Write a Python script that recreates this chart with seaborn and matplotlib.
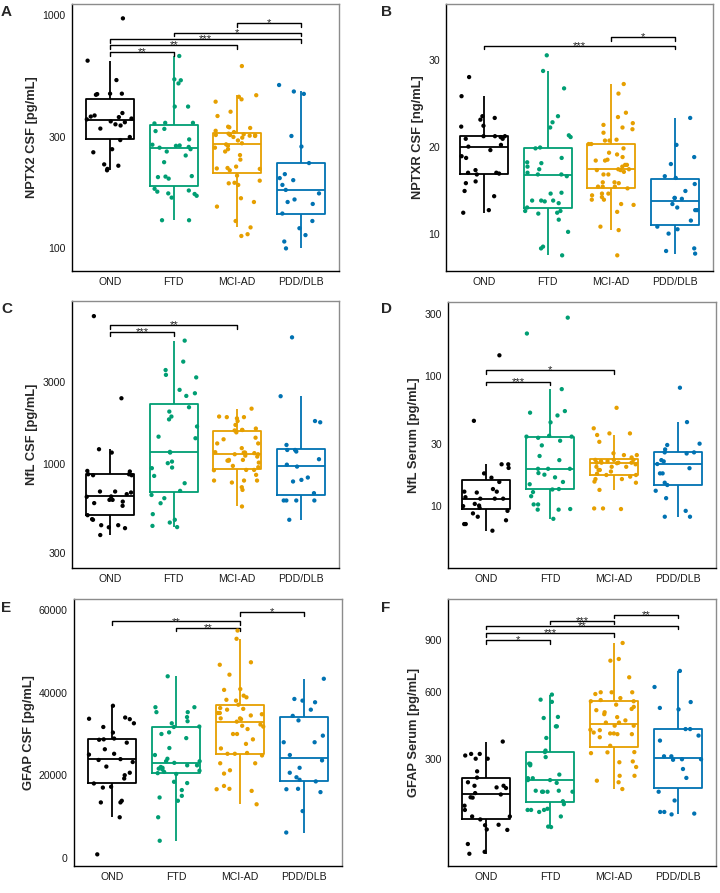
import numpy as np
import pandas as pd
import matplotlib
matplotlib.use('Agg')
import matplotlib.pyplot as plt
from matplotlib.ticker import NullLocator
import seaborn as sns

groups = ['OND', 'FTD', 'MCI-AD', 'PDD/DLB']
colors = ['#000000', '#009E73', '#E69F00', '#0072B2']

# A: NPTX2 CSF [pg/mL]
ond_a = [967, 637, 526, 460, 460, 458, 455, 380, 371, 367, 365, 360, 357, 350, 347, 340, 336, 326, 300, 291, 266, 258, 229, 226, 219, 216]
ftd_a = [667, 530, 525, 509, 405, 405, 345, 345, 343, 325, 318, 293, 278, 276, 275, 272, 270, 266, 260, 250, 234, 204, 203, 202, 199, 180, 177, 175, 172, 171, 168, 165, 132, 132]
mci_a = [604, 453, 446, 435, 425, 385, 369, 332, 330, 328, 319, 315, 310, 308, 306, 306, 305, 304, 303, 300, 298, 290, 282, 279, 275, 270, 266, 260, 251, 240, 224, 221, 220, 219, 216, 205, 195, 191, 190, 187, 164, 158, 151, 131, 123, 115, 113]
pdd_a = [501, 470, 459, 303, 273, 232, 208, 200, 196, 187, 178, 172, 162, 158, 155, 141, 131, 122, 114, 107, 100]

# B: NPTXR CSF [ng/mL]
ond_b = [28.0, 25.8, 23.5, 23.3, 23.1, 22.4, 22.3, 21.2, 21.2, 21.1, 21.2, 20.9, 20.9, 20.2, 20.0, 19.6, 18.9, 18.7, 17.3, 17.0, 17.0, 16.9, 16.8, 16.0, 15.8, 14.9, 14.3, 12.7, 12.4]
ftd_b = [30.5, 28.7, 26.7, 23.5, 22.8, 22.2, 21.3, 21.1, 19.9, 19.8, 18.7, 18.2, 18.1, 17.7, 17.4, 17.0, 16.8, 16.8, 16.6, 14.7, 14.6, 13.8, 13.8, 13.8, 13.7, 13.5, 13.0, 12.6, 12.6, 12.3, 12.4, 11.6, 10.2, 8.5, 8.3, 7.5]
mci_b = [27.2, 26.1, 23.9, 23.4, 22.7, 22.5, 22.2, 22.0, 21.6, 20.8, 20.7, 20.7, 20.3, 20.3, 19.8, 19.3, 19.1, 18.8, 18.5, 18.4, 18.4, 17.9, 17.9, 17.7, 17.4, 17.4, 17.3, 17.3, 17.1, 16.8, 16.8, 15.9, 15.9, 15.8, 15.4, 15.4, 15.4, 15.2, 14.6, 14.6, 14.4, 14.2, 13.9, 13.9, 13.4, 13.3, 12.5, 10.8, 10.4, 7.5]
pdd_b = [23.3, 20.2, 18.8, 18.0, 16.6, 16.4, 15.7, 14.9, 14.1, 14.1, 14.0, 13.4, 13.0, 12.7, 12.7, 11.5, 10.8, 10.5, 10.0, 8.3, 8.0, 7.7]

# C: NfL CSF [pg/mL]
ond_c = [7240, 2403, 1212, 1159, 906, 899, 866, 866, 855, 855, 687, 687, 678, 663, 640, 643, 614, 614, 600, 588, 567, 500, 470, 474, 437, 437, 425, 420, 383]
ftd_c = [5210, 3930, 3510, 3290, 3180, 2690, 2570, 2480, 2130, 2010, 1880, 1810, 1645, 1435, 1405, 1170, 1159, 1027, 1005, 948, 940, 847, 768, 693, 656, 628, 587, 507, 470, 453, 433, 426]
mci_c = [2090, 1880, 1865, 1865, 1835, 1770, 1680, 1600, 1570, 1570, 1560, 1520, 1415, 1385, 1310, 1310, 1230, 1165, 1159, 1159, 1150, 1133, 1133, 1112, 1098, 1050, 1050, 1040, 1040, 1013, 969, 952, 918, 918, 914, 859, 796, 796, 796, 775, 728, 702, 562]
pdd_c = [5445, 2470, 1770, 1740, 1284, 1200, 1200, 1175, 1060, 985, 960, 829, 803, 786, 672, 609, 609, 609, 609, 470]

# D: NfL Serum [pg/mL]
ond_d = [144, 45, 20.8, 20.8, 19.5, 17.7, 16.4, 15.2, 13.4, 12.8, 12.8, 12.6, 11.6, 11.3, 11.3, 11.3, 10.3, 10.0, 9.9, 9.6, 9.1, 8.7, 8.2, 7.7, 7.2, 7.2, 6.4]
ftd_d = [281, 212, 79, 53.5, 52, 49.5, 43.8, 34.5, 34.0, 34.0, 33.3, 31.6, 29.1, 24.1, 22.4, 19.2, 19.2, 19.2, 17.8, 17.3, 16.5, 15.2, 14.6, 13.4, 13.3, 12.7, 11.8, 10.2, 10.2, 9.4, 9.3, 9.3, 7.9]
mci_d = [56.7, 39.4, 36, 36, 35, 31, 25.3, 24.5, 24.5, 23.5, 22.5, 22.5, 22.5, 22.0, 22.0, 21.4, 21.4, 21.4, 21.4, 21.2, 20.8, 19.9, 19.9, 19.9, 18.8, 18.8, 18.3, 17.2, 17.2, 17.6, 16.7, 16.0, 16.0, 15.3, 15.0, 13.2, 9.5, 9.5, 9.4]
pdd_d = [81, 44, 30, 29.3, 27.1, 25.7, 25.7, 25.2, 22.4, 21.9, 20.9, 19.4, 17.7, 17.7, 15.0, 14.4, 13.0, 11.4, 9.1, 8.2, 8.2]

# E: GFAP CSF [pg/mL]
ond_e = [36850, 34000, 33600, 33700, 31700, 32600, 30350, 28700, 28900, 28600, 27900, 26300, 25200, 25000, 23900, 23700, 23200, 22100, 19200, 20000, 20600, 18000, 17000, 17200, 13400, 13400, 13800, 9800, 800]
ftd_e = [44000, 36500, 35300, 35300, 36500, 34100, 33100, 32600, 31800, 31700, 30000, 30400, 29000, 26600, 24900, 24000, 23400, 23400, 23000, 22400, 22400, 22000, 21800, 21600, 21400, 21100, 20800, 20500, 20300, 18400, 18100, 16400, 15000, 14600, 13800, 9800, 4100]
mci_e = [55100, 53100, 47400, 46800, 44400, 40700, 40900, 39300, 38900, 38300, 38100, 37100, 36300, 36100, 35900, 35100, 34800, 35100, 34500, 33800, 33800, 33600, 33000, 32000, 32300, 31800, 31200, 30000, 30000, 28700, 27600, 26500, 25400, 24800, 25200, 25200, 22900, 22900, 21200, 20400, 17400, 16700, 16600, 16200, 12950]
pdd_e = [43400, 38500, 38100, 37700, 35900, 34400, 33300, 29600, 28000, 28000, 24900, 23600, 21800, 20600, 19500, 18900, 18500, 16600, 15900, 16700, 11300, 6100]

# F: GFAP Serum [pg/mL]
ond_f = [367, 318, 312, 318, 300, 300, 255, 234, 219, 208, 201, 186, 203, 208, 182, 173, 174, 140, 151, 124, 124, 117, 105, 104, 95, 94, 67, 54, 51]
ftd_f = [585, 559, 548, 475, 470, 432, 432, 382, 331, 325, 306, 281, 282, 276, 244, 226, 226, 232, 232, 217, 190, 190, 190, 193, 193, 190, 163, 155, 143, 135, 140, 140, 140, 124, 101, 100]
mci_f = [883, 774, 784, 678, 597, 597, 597, 588, 551, 551, 567, 557, 534, 523, 513, 507, 497, 488, 474, 459, 449, 449, 435, 435, 415, 417, 405, 401, 401, 398, 398, 385, 350, 325, 324, 321, 290, 287, 270, 240, 240, 219, 224, 198]
pdd_f = [714, 625, 547, 518, 511, 420, 420, 392, 371, 309, 309, 296, 298, 298, 263, 233, 190, 165, 135, 135, 131, 129]

# significance brackets: (group1, group2, label, height as axes fraction)
comps_a = [('OND', 'FTD', '**', 0.819), ('OND', 'MCI-AD', '**', 0.846), ('OND', 'PDD/DLB', '***', 0.868),
           ('FTD', 'PDD/DLB', '*', 0.893), ('MCI-AD', 'PDD/DLB', '*', 0.928)]
comps_b = [('OND', 'PDD/DLB', '***', 0.843), ('MCI-AD', 'PDD/DLB', '*', 0.876)]
comps_c = [('OND', 'FTD', '***', 0.883), ('OND', 'MCI-AD', '**', 0.910)]
comps_d = [('OND', 'FTD', '***', 0.700), ('OND', 'MCI-AD', '*', 0.744)]
comps_e = [('OND', 'MCI-AD', '**', 0.916), ('FTD', 'MCI-AD', '**', 0.893), ('MCI-AD', 'PDD/DLB', '*', 0.950)]
comps_f = [('OND', 'FTD', '*', 0.846), ('OND', 'MCI-AD', '***', 0.872), ('OND', 'PDD/DLB', '**', 0.899),
           ('FTD', 'MCI-AD', '***', 0.918), ('MCI-AD', 'PDD/DLB', '**', 0.940)]

W, H = 720, 893


def draw_panel(ax, values, ylabel, yscale, ylim, yticks, comps, whis=1.5, seed=0):
    df = pd.DataFrame({
        'group': np.repeat(groups, [len(v) for v in values]),
        'value': np.concatenate(values).astype(float),
    })
    if yscale == 'sqrt':
        ax.set_yscale('function', functions=(lambda y: np.sqrt(np.clip(y, 0, None)), np.square))
    sns.boxplot(data=df, x='group', y='value', hue='group', order=groups, hue_order=groups,
                palette=colors, fill=False, width=0.75, showfliers=False, showcaps=False,
                whis=whis, linewidth=1.3, legend=False,
                log_scale=True if yscale == 'log' else None, ax=ax)
    np.random.seed(seed)
    sns.stripplot(data=df, x='group', y='value', hue='group', order=groups, hue_order=groups,
                  palette=colors, jitter=0.37, size=3.1, linewidth=0, legend=False, ax=ax)

    ax.set_xlim(-0.6, 3.6)
    ax.set_ylim(ylim)
    ax.set_yticks(yticks)
    ax.set_yticklabels([f'{t:g}' for t in yticks])
    ax.yaxis.set_minor_locator(NullLocator())
    ax.set_xlabel('')
    ax.set_ylabel(ylabel, fontweight='bold', fontsize=9.3, labelpad=3)
    ax.tick_params(direction='out', length=3, width=0.8, color='#333333', pad=1.5,
                   labelsize=7.6, labelcolor='#1a1a1a')
    for side in ['left', 'bottom']:
        ax.spines[side].set_color('black')
        ax.spines[side].set_linewidth(1.0)
    for side in ['top', 'right']:
        ax.spines[side].set_color('#8c8c8c')
        ax.spines[side].set_linewidth(1.0)

    tr = ax.get_xaxis_transform()
    for g1, g2, label, level in comps:
        x1, x2 = groups.index(g1), groups.index(g2)
        ax.plot([x1, x1, x2, x2], [level - 0.013, level, level, level - 0.013],
                color='black', lw=1.0, transform=tr, clip_on=False)
        ax.text((x1 + x2) / 2, level - 0.012, label, transform=tr, ha='center', va='baseline',
                fontsize=8.2)


def add_axes(fig, left, top, right, bottom):
    return fig.add_axes([left / W, 1 - bottom / H, (right - left) / W, (bottom - top) / H])


sns.set_style('white')
plt.rcParams['font.family'] = ['Liberation Sans', 'DejaVu Sans']

fig = plt.figure(figsize=(W / 100, H / 100), dpi=100)

panels = [
    ('A', (72, 4, 339, 271), (1, 5), [ond_a, ftd_a, mci_a, pdd_a], 'NPTX2 CSF [pg/mL]', 'log',
     (80, 1114), [100, 300, 1000], comps_a, 1.5),
    ('B', (446, 4, 713, 271), (381, 5), [ond_b, ftd_b, mci_b, pdd_b], 'NPTXR CSF [ng/mL]', 'linear',
     (5.7, 36.4), [10, 20, 30], comps_b, 1.5),
    ('C', (72, 301, 339, 568), (1, 302), [ond_c, ftd_c, mci_c, pdd_c], 'NfL CSF [pg/mL]', 'log',
     (246, 8870), [300, 1000, 3000], comps_c, 1.5),
    ('D', (448, 302, 716, 568), (381, 302), [ond_d, ftd_d, mci_d, pdd_d], 'NfL Serum [pg/mL]', 'log',
     (3.3, 371), [10, 30, 100, 300], comps_d, 1.5),
    ('E', (74, 599, 342, 866), (1, 601), [ond_e, ftd_e, mci_e, pdd_e], 'GFAP CSF [pg/mL]', 'linear',
     (-2024, 62753), [0, 20000, 40000, 60000], comps_e, 1.5),
    # ggplot computes the box stats on the sqrt scale; a wider whisker reach mimics that here
    ('F', (448, 599, 716, 866), (381, 601), [ond_f, ftd_f, mci_f, pdd_f], 'GFAP Serum [pg/mL]', 'sqrt',
     (34, 1185), [300, 600, 900], comps_f, 2.0),
]

for i, (tag, rect, lab_xy, vals, ylab, scale, ylim, ticks, comps, whis) in enumerate(panels):
    ax = add_axes(fig, *rect)
    draw_panel(ax, vals, ylab, scale, ylim, ticks, comps, whis=whis, seed=10 + i)
    fig.text(lab_xy[0] / W, 1 - lab_xy[1] / H, tag, fontweight='bold', fontsize=11, va='top', ha='left')

fig.savefig('out.png', dpi=100)
